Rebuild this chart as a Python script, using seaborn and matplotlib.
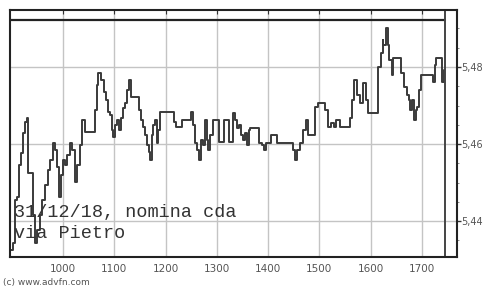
import matplotlib
matplotlib.use('Agg')
import numpy as np
import pandas as pd
import matplotlib.pyplot as plt
import seaborn as sns

# intraday trade, x = minutes since midnight, y = price
minutes = [539, 542, 544, 546, 549, 551, 553, 556, 558, 559, 563, 565, 567, 570, 573,
           575, 579, 582, 585, 588, 591, 593, 595, 598, 600, 602, 605, 608, 611, 614,
           616, 620, 622, 625, 626, 635, 637, 640, 641, 644, 648, 650, 653, 655, 657,
           658, 661, 663, 665, 668, 670, 672, 675, 677, 680, 687, 689, 691, 694, 696,
           698, 701, 702, 704, 705, 708, 710, 711, 713, 727, 730, 732, 737, 739, 749,
           750, 752, 754, 757, 759, 761, 764, 766, 768, 770, 772, 775, 781, 782, 787,
           788, 793, 794, 798, 799, 801, 804, 806, 808, 811, 813, 815, 818, 819, 828,
           829, 833, 835, 837, 842, 843, 849, 850, 868, 869, 871, 874, 877, 881, 884,
           887, 892, 895, 898, 903, 906, 910, 913, 917, 920, 924, 930, 936, 938, 940,
           944, 947, 951, 954, 957, 966, 968, 972, 974, 975, 978, 980, 982, 985, 986,
           994, 995, 999, 1002, 1005, 1006, 1008, 1011, 1013, 1014, 1016, 1019, 1030, 1033, 1035,
           1036, 1042, 1043, 1046]
prices = [5.4325, 5.4343, 5.4455, 5.4462, 5.4545, 5.4577, 5.4629, 5.4657, 5.4668, 5.4525,
          5.4525, 5.4416, 5.4343, 5.4377, 5.4416, 5.4455, 5.4494, 5.4532, 5.4558, 5.4603,
          5.4584, 5.4540, 5.4462, 5.4520, 5.4558, 5.4545, 5.4571, 5.4603, 5.4584, 5.4501,
          5.4545, 5.4597, 5.4662, 5.4662, 5.4631, 5.4631, 5.4688, 5.4753, 5.4784, 5.4766,
          5.4735, 5.4714, 5.4683, 5.4675, 5.4636, 5.4618, 5.4649, 5.4662, 5.4636, 5.4668,
          5.4693, 5.4706, 5.4740, 5.4766, 5.4722, 5.4722, 5.4688, 5.4662, 5.4644, 5.4623,
          5.4597, 5.4579, 5.4558, 5.4623, 5.4649, 5.4662, 5.4603, 5.4636, 5.4683, 5.4683,
          5.4657, 5.4644, 5.4644, 5.4662, 5.4662, 5.4683, 5.4649, 5.4603, 5.4584, 5.4558,
          5.4610, 5.4597, 5.4662, 5.4610, 5.4584, 5.4623, 5.4662, 5.4662, 5.4605, 5.4605,
          5.4662, 5.4662, 5.4605, 5.4605, 5.4681, 5.4662, 5.4642, 5.4649, 5.4623, 5.4610,
          5.4629, 5.4597, 5.4636, 5.4642, 5.4642, 5.4603, 5.4597, 5.4584, 5.4603, 5.4603,
          5.4623, 5.4623, 5.4603, 5.4603, 5.4584, 5.4558, 5.4584, 5.4603, 5.4636, 5.4662,
          5.4623, 5.4623, 5.4696, 5.4706, 5.4706, 5.4688, 5.4644, 5.4655, 5.4644, 5.4662,
          5.4644, 5.4644, 5.4668, 5.4714, 5.4766, 5.4727, 5.4706, 5.4758, 5.4714, 5.4681,
          5.4681, 5.4800, 5.4836, 5.4870, 5.4857, 5.4901, 5.4857, 5.4818, 5.4779, 5.4823,
          5.4823, 5.4784, 5.4748, 5.4727, 5.4714, 5.4688, 5.4714, 5.4662, 5.4688, 5.4696,
          5.4740, 5.4779, 5.4779, 5.4761, 5.4805, 5.4823, 5.4823, 5.4761, 5.4792]

x_ticks = [600, 660, 720, 780, 840, 900, 960, 1020]
x_labels = ['1000', '1100', '1200', '1300', '1400', '1500', '1600', '1700']
y_ticks = [5.44, 5.46, 5.48]
y_labels = ['5,44', '5,46', '5,48']
ref_level = 5.4922
session_end = 1047

df = pd.DataFrame({'minute': minutes, 'price': prices})

sns.set_style('white')
fig = plt.figure(figsize=(4.83, 2.89), dpi=100)
ax = fig.add_axes([10/483, 32/289, 447/483, 247/289])

sns.lineplot(data=df, x='minute', y='price', ax=ax, drawstyle='steps-post',
             color='#3a3a3a', lw=1.4)

ax.set_xlim(538, 1061)
ax.set_ylim(5.4307, 5.4948)
ax.set_xlabel('')
ax.set_ylabel('')

ax.set_xticks(x_ticks)
ax.set_xticklabels(x_labels)
ax.set_yticks(y_ticks)
ax.set_yticklabels(y_labels)
ax.set_yticks(np.arange(5.435, 5.4901, 0.005), minor=True)
ax.yaxis.tick_right()
ax.grid(True, which='major', color='#c4c4c4', lw=1)

ax.tick_params(axis='x', direction='in', length=3, top=True, labelsize=7.5,
               labelcolor='#555555', color='#333333', pad=5)
ax.tick_params(axis='y', which='major', direction='out', length=3, width=1,
               labelsize=7, labelcolor='#555555', color='#333333', pad=0.3)
ax.tick_params(axis='y', which='minor', direction='out', length=1.5, color='#777777')

for s in ax.spines.values():
    s.set_color('#222222')
    s.set_linewidth(1.5)

ax.axhline(ref_level, xmax=(session_end - 538) / (1061 - 538), color='#222222', lw=1.6)
ax.axvline(session_end, color='#444444', lw=1.4)

fig.text(14/483, 1 - 212/289, '31/12/18, nomina cda', family='Liberation Mono',
         fontsize=13.3, color='#333333', va='center')
fig.text(14/483, 1 - 233/289, 'via Pietro', family='Liberation Mono',
         fontsize=13.3, color='#333333', va='center')
fig.text(3/483, 1 - 283/289, '(c) www.advfn.com', fontsize=6.5, color='#555555', va='center')

plt.savefig('out.png', dpi=100)
